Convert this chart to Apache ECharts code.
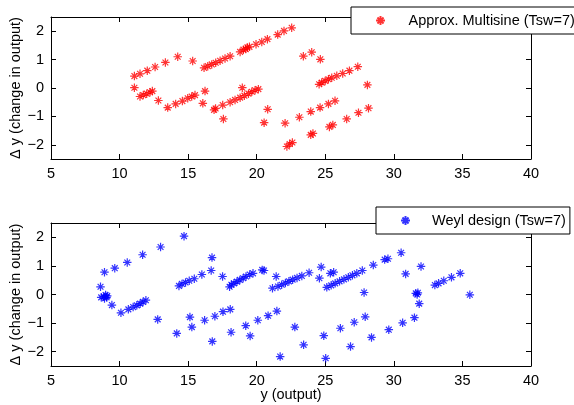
<!DOCTYPE html>
<html><head><meta charset="utf-8">
<script src="https://cdn.jsdelivr.net/npm/echarts@6/dist/echarts.min.js"></script>
<style>html,body{margin:0;padding:0;background:#fff}#c{width:574px;height:405px}</style>
</head><body><div id="c"></div>
<script>
const xTicks = [5,10,15,20,25,30,35,40];
const yTicks = [-2,-1,0,1,2];
const multisineName = 'Approx. Multisine (Tsw=7)';
const weylName = 'Weyl design (Tsw=7)';
const multisineX = [11.08,11.49,12.02,12.59,13.34,14.24,15.33,
16.16,16.43,16.72,17.01,17.33,17.69,18.06,18.79,19.03,19.2,19.32,19.47,19.95,20.37,20.78,21.53,21.99,22.55,
23.4,24.01,24.64,
24.55,24.74,24.99,25.23,25.47,25.84,26.27,26.76,27.37,28.07,
11.08,11.49,11.73,11.98,12.22,12.39,12.83,13.51,14.09,14.58,14.97,15.26,15.5,16.23,16.07,16.89,17.0,17.57,17.52,18.06,18.42,18.79,19.1,19.4,19.64,19.88,20.12,18.95,20.8,20.54,22.07,23.11,23.94,24.62,25.23,25.71,
22.2,22.4,22.6,23.94,24.1,25.3,25.55,26.56,27.42,28.15];
const multisineY = [0.42,0.5,0.61,0.74,0.9,1.1,0.95,
0.71,0.77,0.83,0.89,0.96,1.04,1.12,1.27,1.35,1.37,1.43,1.45,1.54,1.62,1.72,1.88,2.01,2.12,
1.12,1.26,1.01,
0.13,0.19,0.25,0.31,0.36,0.43,0.51,0.61,0.75,0.11,
0.01,-0.3,-0.25,-0.2,-0.15,-0.11,-0.44,-0.69,-0.56,-0.46,-0.36,-0.3,-0.25,-0.11,-0.54,-0.77,-0.72,-1.09,-0.6,-0.5,-0.42,-0.34,-0.27,-0.2,-0.13,-0.08,-0.04,0.01,-0.75,-1.22,-1.24,-1.03,-0.83,-0.69,-0.56,-0.45,
-2.06,-1.97,-1.92,-1.65,-1.6,-1.37,-1.3,-1.09,-0.87,-0.71];
const weylX = [8.61,8.9,8.66,8.85,8.98,9.05,8.9,9.1,9.44,9.65,10.1,10.56,10.64,10.99,11.26,11.5,11.71,11.92,11.68,12.78,12.99,14.17,14.7,
14.33,14.55,14.81,15.08,15.45,16.0,16.68,
15.13,15.27,16.2,16.74,16.76,16.95,17.54,18.07,17.51,18.13,
18.02,18.15,18.34,18.56,18.77,19.01,19.22,19.49,19.73,20.4,20.53,
19.2,19.52,20.08,20.83,21.47,21.42,
21.15,21.55,21.82,22.09,22.35,22.62,22.94,23.29,23.82,24.7,
21.71,22.78,23.42,24.57,24.89,25.03,25.37,25.61,
25.11,25.43,25.72,26.04,26.36,26.68,26.98,27.3,27.7,28.5,
26.1,26.84,27.11,27.83,27.91,28.37,29.33,29.57,29.63,30.53,30.64,30.86,31.5,31.6,31.7,31.75,31.85,31.98,
32.99,33.26,33.64,34.2,34.84,35.54];
const weylY = [0.27,0.78,-0.1,-0.08,-0.02,-0.1,-0.14,-0.05,-0.37,0.92,-0.64,1.12,-0.52,-0.44,-0.38,-0.32,-0.26,-0.2,1.39,-0.87,1.66,-1.36,2.04,
0.3,0.37,0.42,0.48,0.55,0.7,0.84,
-0.79,-1.14,-0.9,1.29,-1.64,-0.76,-0.6,-0.52,0.63,-1.32,
0.27,0.34,0.39,0.45,0.51,0.57,0.63,0.7,0.74,0.86,0.84,
-1.09,-1.45,-0.9,-0.74,-0.58,0.63,
0.22,0.28,0.34,0.4,0.46,0.52,0.58,0.65,0.76,0.96,
-2.17,-1.14,-1.76,0.57,-1.44,-2.23,0.74,0.78,
0.25,0.32,0.39,0.46,0.53,0.6,0.67,0.74,0.84,1.03,
-1.18,-1.82,-0.97,0.07,-0.78,-1.5,1.22,1.25,-1.23,1.46,-0.99,0.72,-0.81,0.04,0.0,0.06,-0.32,0.98,
0.33,0.39,0.48,0.6,0.74,-0.01];

const FONT = 'Liberation Sans, Arial, sans-serif';
const FS = 14.5;
const STAR = 'path://M5 0 L5 10 M0 5 L10 5 M1.6 1.6 L8.4 8.4 M1.6 8.4 L8.4 1.6';
const fmt = v => String(v).replace('-', '\u2212');
const zip = (a,b) => a.map((v,i)=>[v,b[i]]);

function xAx(g, pos, labels, name) {
  return {
    type:'value', gridIndex:g, position:pos, min:5, max:40, interval:5,
    axisLine:{show:true, onZero:false, lineStyle:{color:'#000', width:1}},
    axisTick:{show:true, inside:true, length:5, lineStyle:{color:'#000'}},
    axisLabel:{show:labels, color:'#000', fontSize:FS, fontFamily:FONT, margin:7, formatter:fmt},
    splitLine:{show:false},
    name: name || '', nameLocation:'middle', nameGap:21, nameMoveOverlap:false,
    nameTextStyle:{color:'#000', fontSize:FS, fontFamily:FONT}
  };
}
function yAx(g, pos, labels) {
  return {
    type:'value', gridIndex:g, position:pos, min:-2.5, max:2.5,
    axisLine:{show:true, onZero:false, lineStyle:{color:'#000', width:1}},
    axisTick:{show:true, inside:true, length:5, customValues:yTicks, lineStyle:{color:'#000'}},
    axisLabel:{show:labels, customValues:yTicks, color:'#000', fontSize:FS, fontFamily:FONT, margin:7, formatter:fmt},
    splitLine:{show:false},
    name: labels ? '\u0394 y (change in output)' : '', nameLocation:'middle', nameGap:28, nameMoveOverlap:false,
    nameTextStyle:{color:'#000', fontSize:FS, fontFamily:FONT}
  };
}

const chart = echarts.init(document.getElementById('c'), null, {renderer:'canvas'});
chart.setOption({
  animation:false,
  backgroundColor:'#fff',
  grid:[
    {left:51, right:43, top:17, height:142, containLabel:false, outerBoundsMode:'none'},
    {left:51, right:43, top:223, height:143, containLabel:false, outerBoundsMode:'none'}
  ],
  xAxis:[xAx(0,'bottom',true), xAx(0,'top',false), xAx(1,'bottom',true,'y (output)'), xAx(1,'top',false)],
  yAxis:[yAx(0,'left',true), yAx(0,'right',false), yAx(1,'left',true), yAx(1,'right',false)],
  legend:[
    {data:[multisineName], left:351, top:7, orient:'vertical', backgroundColor:'#fff',
     borderColor:'#000', borderWidth:1, borderRadius:0, padding:[6,20,6,24],
     itemWidth:46, itemHeight:9, itemGap:0,
     textStyle:{color:'#000', fontSize:FS, fontFamily:FONT}},
    {data:[weylName], left:376, top:207, orient:'vertical', backgroundColor:'#fff',
     borderColor:'#000', borderWidth:1, borderRadius:0, padding:[6,4,6,24],
     itemWidth:43, itemHeight:9, itemGap:0,
     textStyle:{color:'#000', fontSize:FS, fontFamily:FONT}}
  ],
  series:[
    {name:multisineName, type:'scatter', xAxisIndex:0, yAxisIndex:0, data:zip(multisineX,multisineY),
     symbol:STAR, symbolSize:8.5, itemStyle:{color:'rgba(0,0,0,0)', borderColor:'#ff0000', borderWidth:1.2}},
    {name:weylName, type:'scatter', xAxisIndex:2, yAxisIndex:2, data:zip(weylX,weylY),
     symbol:STAR, symbolSize:8.5, itemStyle:{color:'rgba(0,0,0,0)', borderColor:'#0000ff', borderWidth:1.2}}
  ]
});
</script></body></html>
